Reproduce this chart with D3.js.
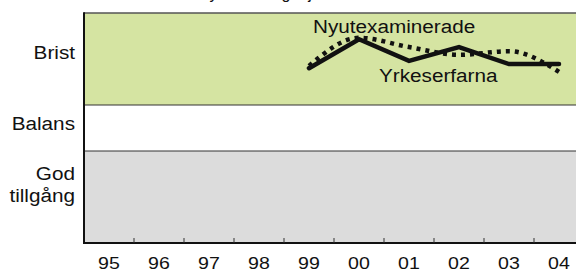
<!DOCTYPE html>
<html>
<head>
<meta charset="utf-8">
<script src="https://cdn.jsdelivr.net/npm/d3@7"></script>
<style>
  body { margin: 0; background: #fff; }
  svg { display: block; }
  text { font-family: "Liberation Sans", Arial, Helvetica, sans-serif; fill: #111; }
</style>
</head>
<body>
<script>
// years along the bottom
var years = ["95", "96", "97", "98", "99", "00", "01", "02", "03", "04"];
var seriesYears = ["99", "00", "01", "02", "03", "04"];
// 0-2 God tillgång, 2-3 Balans, 3-5 Brist
var yrkeserfarna = [3.80, 4.43, 3.96, 4.26, 3.89, 3.89];
var nyutexaminerade = [3.85, 4.46, 4.26, 4.09, 4.17, 3.72];
var bands = [
    { name: "Brist", from: 3, to: 5, fill: "#d5e4a2" },
    { name: "Balans", from: 2, to: 3, fill: "#ffffff" },
    { name: "God tillgång", from: 0, to: 2, fill: "#dcdcdc" }
];

var svgWidth = 576,
    svgHeight = 273;
var plotLeft = 84, plotRight = 584, plotTop = 13, plotBottom = 243;
var stretch = 1.15;

var svg = d3.select("body").append("svg").attr("width", svgWidth).attr("height", svgHeight);

var x = d3.scaleBand().domain(years).range([plotLeft, plotRight]);
var y = d3.scaleLinear().domain([0, 5]).range([plotBottom, plotTop]);

// background bands
svg.selectAll("rect.band")
    .data(bands)
    .enter()
    .append("rect")
    .attr("class", "band")
    .attr("x", plotLeft)
    .attr("width", plotRight - plotLeft)
    .attr("y", d => y(d.to))
    .attr("height", d => y(d.from) - y(d.to))
    .attr("fill", d => d.fill);

// band boundaries
svg.selectAll("line.sep")
    .data([3, 2])
    .enter()
    .append("line")
    .attr("class", "sep")
    .attr("x1", plotLeft).attr("x2", plotRight)
    .attr("y1", d => y(d)).attr("y2", d => y(d))
    .attr("stroke", "#333")
    .attr("stroke-width", 1);

// frame
svg.append("line")
    .attr("x1", plotLeft).attr("x2", plotRight)
    .attr("y1", y(5)).attr("y2", y(5))
    .attr("stroke", "#555").attr("stroke-width", 1.5);
svg.append("line")
    .attr("x1", plotLeft).attr("x2", plotLeft)
    .attr("y1", y(5) - 0.75).attr("y2", y(0) + 1)
    .attr("stroke", "#111").attr("stroke-width", 2);
svg.append("line")
    .attr("x1", plotLeft).attr("x2", plotRight)
    .attr("y1", y(0)).attr("y2", y(0))
    .attr("stroke", "#111").attr("stroke-width", 2);

// ticks between years, inside the plot
svg.selectAll("line.tick")
    .data(years.slice(1))
    .enter()
    .append("line")
    .attr("class", "tick")
    .attr("x1", d => x(d)).attr("x2", d => x(d))
    .attr("y1", y(0) - 5).attr("y2", y(0))
    .attr("stroke", "#333").attr("stroke-width", 1);

// year labels
svg.selectAll("text.year")
    .data(years)
    .enter()
    .append("text")
    .attr("class", "year")
    .attr("x", d => x(d) + x.bandwidth() / 2)
    .attr("y", 269)
    .attr("text-anchor", "middle")
    .style("font-size", "17px")
    .text(d => d);

// band labels
var bandLabels = [
    { lines: ["Brist"], y: 59 },
    { lines: ["Balans"], y: 130 },
    { lines: ["God", "tillgång"], y: 180 }
];
bandLabels.forEach(function(b) {
    b.lines.forEach(function(l, i) {
        svg.append("text")
            .attr("x", 75)
            .attr("y", b.y + i * 22)
            .attr("text-anchor", "end")
            .style("font-size", "18px")
            .text(l);
    });
});

var cx = d => x(d) + x.bandwidth() / 2;

var dotted = d3.line()
    .x((d, i) => cx(seriesYears[i]))
    .y(d => y(d))
    .curve(d3.curveMonotoneX);

var solid = d3.line()
    .x((d, i) => cx(seriesYears[i]))
    .y(d => y(d));

svg.append("path")
    .datum(nyutexaminerade)
    .attr("d", dotted)
    .attr("fill", "none")
    .attr("stroke", "#111")
    .attr("stroke-width", 4.5)
    .attr("stroke-dasharray", "4,5");

svg.append("path")
    .datum(yrkeserfarna)
    .attr("d", solid)
    .attr("fill", "none")
    .attr("stroke", "#111")
    .attr("stroke-width", 4.5)
    .attr("stroke-linejoin", "miter")
    .attr("stroke-linecap", "round");

// series labels
svg.append("text")
    .attr("x", 313)
    .attr("y", 33)
    .style("font-size", "18px")
    .text("Nyutexaminerade");
svg.append("text")
    .attr("x", 379)
    .attr("y", 82)
    .style("font-size", "18px")
    .text("Yrkeserfarna");

// the lettering of the original is a bit wider than Helvetica
svg.selectAll("text").each(function() {
    var len = this.getComputedTextLength();
    d3.select(this).attr("textLength", len * stretch).attr("lengthAdjust", "spacingAndGlyphs");
});

// title, above the top of the picture: only the descenders show, as in the original
svg.append("text")
    .attr("x", 197)
    .attr("y", -1)
    .style("font-size", "16px")
    .text("Gymnasieingenjörer");
</script>
</body>
</html>
